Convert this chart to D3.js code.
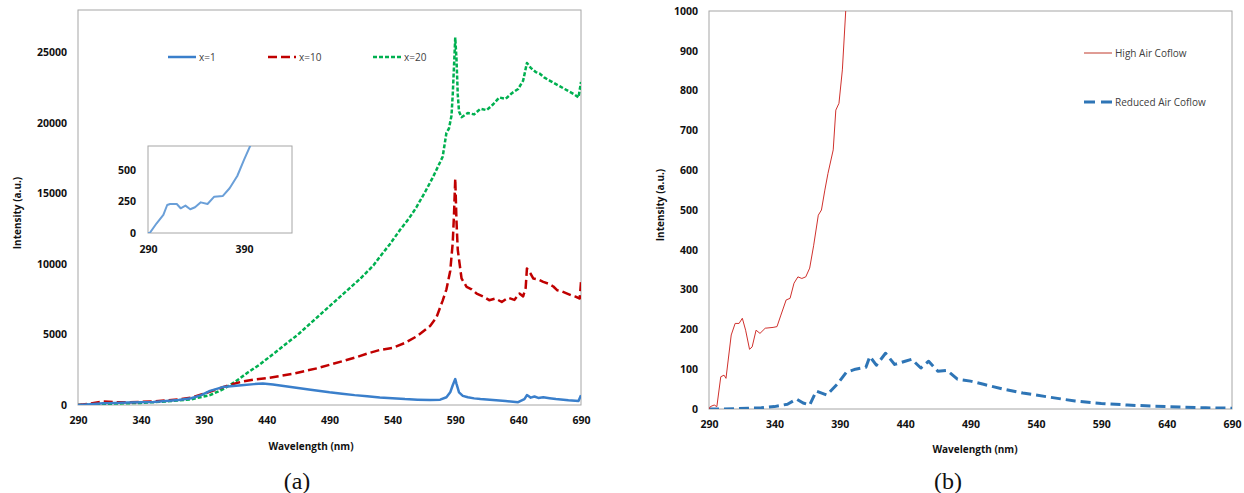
<!DOCTYPE html>
<html>
<head>
<meta charset="utf-8">
<script src="https://cdn.jsdelivr.net/npm/d3@7"></script>
<style>
  body { margin: 0; background: #fff; }
  svg text { font-family: "Open Sans", sans-serif; }
  .tick text { font-size: 10.5px; font-weight: 700; fill: #111; }
  .title { font-size: 10px; font-weight: 700; fill: #111; }
  .legend { font-size: 10px; fill: #404040; }
  .caption { font-family: "Liberation Serif", serif; font-size: 24px; fill: #111; }
</style>
</head>
<body>
<svg id="chart" width="1244" height="493"></svg>
<script>
// ---- panel (a): spectra at x=1, x=10, x=20 ----
var ticksA_x = [290, 340, 390, 440, 490, 540, 590, 640, 690];
var ticksA_y = [0, 5000, 10000, 15000, 20000, 25000];

var x1_nm  = [290,300,310,320,330,340,350,360,370,380,388,395,405,420,430,437,445,455,465,475,490,500,510,520,530,540,550,560,570,578,583,586,588,590,591,593,596,600,605,610,620,630,640,645,647,648,650,653,656,660,665,670,680,688,690];
var x1_val = [0,60,120,150,170,190,220,280,350,480,700,1000,1270,1400,1480,1530,1450,1330,1200,1080,900,800,700,620,540,480,420,380,350,380,550,900,1400,1840,1500,900,650,550,470,420,350,280,200,420,700,650,520,600,500,550,480,420,330,290,700];

var x10_nm  = [290,300,310,320,330,340,350,360,370,380,390,400,410,420,430,440,450,460,470,480,490,500,510,520,530,540,550,560,570,575,580,583,586,588,589,590,591,592,595,599,603,607,612,617,622,627,632,637,641,644,646,647,650,652,656,660,664,668,671,675,679,683,686,689,690];
var x10_val = [0,100,250,200,200,220,260,320,400,520,800,1100,1400,1650,1800,1900,2050,2200,2400,2600,2850,3100,3350,3650,3900,4050,4400,4900,5600,6200,7400,8200,9500,11500,13500,16050,13000,11000,8970,8380,8200,7900,7700,7430,7550,7300,7600,7450,7900,7700,8300,9680,9300,8970,8900,8730,8600,8400,8140,8050,7900,7750,7670,7550,8730];

var x20_nm  = [290,310,340,360,380,395,405,415,425,435,445,455,465,475,485,495,505,515,525,530,538,546,553,559,566,572,580,583,585,587,588,589,590,591,592,593,595,600,605,610,615,620,625,630,635,640,644,647,650,654,657,661,665,669,673,677,681,685,688,690];
var x20_val = [0,80,150,250,400,700,1100,1650,2300,2900,3600,4300,5000,5800,6600,7400,8200,9000,9900,10500,11400,12400,13200,14000,15100,16100,17600,19300,19600,20500,22000,24000,26050,24500,22000,20800,20400,20700,20600,21000,20900,21300,21800,21700,22100,22400,23000,24250,23900,23600,23500,23200,23000,22800,22600,22400,22200,22000,21800,22900];

// inset of x=1, low wavelengths
var inset_ticks_x = [290, 390];
var inset_ticks_y = [0, 250, 500];
var inset_nm  = [290,292,299,306,310,313,320,324,329,334,339,345,352,359,368,375,383,390,397,402];
var inset_val = [0,2,77,143,222,230,230,196,217,188,204,243,230,288,294,355,452,580,700,780];

// ---- panel (b): high vs reduced air coflow ----
var ticksB_x = [290, 340, 390, 440, 490, 540, 590, 640, 690];
var ticksB_y = [0, 100, 200, 300, 400, 500, 600, 700, 800, 900, 1000];

var high_nm  = [290,291,294,296,299,301.5,303,307,310,313,315.5,318,321,323,326,329,333,339,342,345,349,352,355,358,361,364,367,370,373.6,376,378.6,381,385,387,389.4,392,394.6,397];
var high_val = [0,6,10,6,81,85,77,186,215,215,228,198,150,156,198,190,203,205,207,236,274,278,316,332,328,332,354,410,487,500,550,592,651,751,768,852,1002,1120];

var reduced_nm  = [290,300,310,320,330,340,350,357,362,367,372,380,388,395,402,410,413,418,425,432,440,445,452,458,465,472,480,490,500,515,530,550,570,590,610,630,650,670,690];
var reduced_val = [0,0,1,2,3,6,12,25,15,10,45,35,62,92,100,105,132,110,140,112,120,125,103,120,95,97,75,70,62,50,40,30,20,14,10,7,5,3,2];

var svg = d3.select("#chart");

function clip(id, x0, y0, w, h) {
  svg.append("clipPath").attr("id", id)
    .append("rect").attr("x", x0).attr("y", y0).attr("width", w).attr("height", h);
}

function axes(x, y, xt, yt, pad) {
  var g = svg.append("g");
  g.append("g")
    .attr("transform", "translate(0," + y.range()[0] + ")")
    .call(d3.axisBottom(x).tickValues(xt).tickSize(0).tickPadding(pad).tickFormat(d3.format("d")))
    .call(function(s) { s.select(".domain").remove(); });
  g.append("g")
    .attr("transform", "translate(" + x.range()[0] + ",0)")
    .call(d3.axisLeft(y).tickValues(yt).tickSize(0).tickPadding(pad - 1).tickFormat(d3.format("d")))
    .call(function(s) { s.select(".domain").remove(); });
  svg.append("rect")
    .attr("x", x.range()[0]).attr("y", y.range()[1])
    .attr("width", x.range()[1] - x.range()[0])
    .attr("height", y.range()[0] - y.range()[1])
    .attr("fill", "none").attr("stroke", "#a6a6a6");
}

function series(x, y, nm, val, clipId, color, width, dash) {
  var line = d3.line().x(function(d) { return x(d[0]); }).y(function(d) { return y(d[1]); });
  svg.append("path")
    .datum(d3.zip(nm, val))
    .attr("clip-path", "url(#" + clipId + ")")
    .attr("d", line)
    .attr("fill", "none")
    .attr("stroke", color)
    .attr("stroke-width", width)
    .attr("stroke-dasharray", dash)
    .attr("stroke-linejoin", "round");
}

function legendItem(x0, y0, label, color, width, dash) {
  svg.append("line").attr("x1", x0).attr("x2", x0 + 28).attr("y1", y0).attr("y2", y0)
    .attr("stroke", color).attr("stroke-width", width).attr("stroke-dasharray", dash);
  svg.append("text").attr("class", "legend").attr("x", x0 + 31).attr("y", y0).attr("dy", "0.35em").text(label);
}

// panel (a)
var xa = d3.scaleLinear().domain([290, 690]).range([78, 581]);
var ya = d3.scaleLinear().domain([0, 28000]).range([405, 10]);
clip("clipA", 78, 10, 503, 395);
axes(xa, ya, ticksA_x, ticksA_y, 12);
series(xa, ya, x20_nm, x20_val, "clipA", "#00b050", 2.5, "4,2");
series(xa, ya, x10_nm, x10_val, "clipA", "#c00000", 2.5, "9,4");
series(xa, ya, x1_nm, x1_val, "clipA", "#3a7fcb", 2.5, null);

legendItem(168, 57, "x=1", "#3a7fcb", 2.5, null);
legendItem(268, 57, "x=10", "#c00000", 2.5, "9,4");
legendItem(373, 57, "x=20", "#00b050", 2.5, "4,2");

var xi = d3.scaleLinear().domain([290, 440]).range([148, 292]);
var yi = d3.scaleLinear().domain([0, 690]).range([233, 146]);
svg.append("rect").attr("x", 148).attr("y", 146).attr("width", 144).attr("height", 87).attr("fill", "#fff");
clip("clipI", 148, 146, 144, 87);
axes(xi, yi, inset_ticks_x, inset_ticks_y, 13);
series(xi, yi, inset_nm, inset_val, "clipI", "#6a9fd8", 2, null);

svg.append("text").attr("class", "title").attr("x", 311).attr("y", 446).attr("dy", "0.35em")
  .attr("text-anchor", "middle").text("Wavelength (nm)");
svg.append("text").attr("class", "title").attr("transform", "translate(17,213) rotate(-90)")
  .attr("dy", "0.35em").attr("text-anchor", "middle").text("Intensity (a.u.)");
svg.append("text").attr("class", "caption").attr("x", 297).attr("y", 481).attr("dy", "0.35em")
  .attr("text-anchor", "middle").text("(a)");

// panel (b)
var xb = d3.scaleLinear().domain([290, 690]).range([709, 1232]);
var yb = d3.scaleLinear().domain([0, 1000]).range([409, 11]);
clip("clipB", 709, 11, 523, 398);
axes(xb, yb, ticksB_x, ticksB_y, 12);
series(xb, yb, reduced_nm, reduced_val, "clipB", "#2e75b6", 3, "10,5");
series(xb, yb, high_nm, high_val, "clipB", "#d0312d", 1, null);

legendItem(1084, 53, "High Air Coflow", "#c0392b", 1, null);
legendItem(1084, 102, "Reduced Air Coflow", "#2e75b6", 3, "11,6");

svg.append("text").attr("class", "title").attr("x", 975).attr("y", 449).attr("dy", "0.35em")
  .attr("text-anchor", "middle").text("Wavelength (nm)");
svg.append("text").attr("class", "title").attr("transform", "translate(660,205) rotate(-90)")
  .attr("dy", "0.35em").attr("text-anchor", "middle").text("Intensity (a.u.)");
svg.append("text").attr("class", "caption").attr("x", 948).attr("y", 481).attr("dy", "0.35em")
  .attr("text-anchor", "middle").text("(b)");
</script>
</body>
</html>
